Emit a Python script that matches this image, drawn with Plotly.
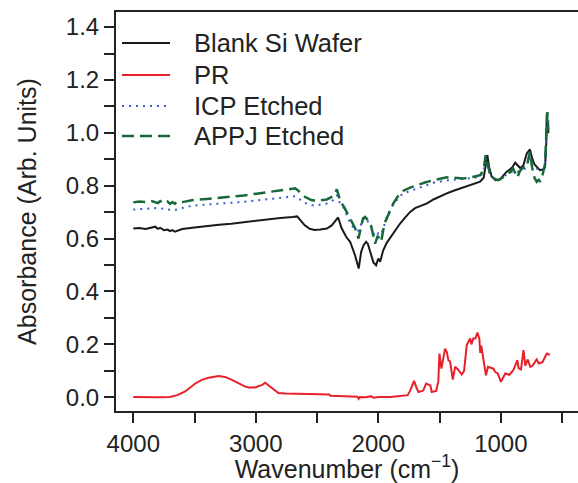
import plotly.graph_objects as go

# ---- data ----
blank_wn = [4000, 3950, 3900, 3850, 3820, 3800, 3780, 3750, 3720, 3700, 3680, 3660, 3640, 3620, 3600,
            3500, 3400, 3300, 3200, 3100, 3000, 2900, 2800, 2700, 2662, 2640, 2600, 2560, 2520, 2474,
            2420, 2380, 2340, 2328, 2300, 2260, 2230, 2190, 2160, 2140, 2120, 2100, 2085, 2065, 2040,
            2018, 2000, 1985, 1960, 1930, 1890, 1860, 1822, 1780, 1740, 1700, 1650, 1602, 1550, 1500,
            1441, 1380, 1306, 1240, 1169, 1140, 1125, 1110, 1095, 1075, 1043, 1010, 980, 952, 925, 905,
            883, 860, 840, 815, 788, 762, 745, 725, 707, 680, 650, 639, 630, 625, 618, 612]
blank_abs = [0.638, 0.640, 0.636, 0.642, 0.645, 0.637, 0.641, 0.632, 0.634, 0.628, 0.632, 0.626, 0.630, 0.633, 0.636,
             0.642, 0.648, 0.652, 0.656, 0.662, 0.667, 0.673, 0.678, 0.682, 0.684, 0.672, 0.650, 0.637, 0.633, 0.634,
             0.638, 0.650, 0.672, 0.680, 0.640, 0.605, 0.588, 0.537, 0.487, 0.550, 0.575, 0.588, 0.580, 0.545, 0.510,
             0.499, 0.525, 0.512, 0.556, 0.585, 0.613, 0.635, 0.657, 0.680, 0.701, 0.715, 0.725, 0.733, 0.748, 0.760,
             0.771, 0.782, 0.793, 0.805, 0.815, 0.830, 0.870, 0.916, 0.870, 0.835, 0.821, 0.822, 0.838, 0.853, 0.862, 0.870,
             0.887, 0.875, 0.866, 0.878, 0.922, 0.937, 0.905, 0.880, 0.871, 0.859, 0.862, 0.870, 0.950, 1.073, 1.040, 0.999]

pr_wn = [4000, 3900, 3800, 3700, 3640, 3576, 3530, 3494, 3440, 3385, 3304, 3250, 3195, 3140, 3086, 3050,
         3032, 3000, 2980, 2950, 2923, 2900, 2869, 2840, 2815, 2760, 2706, 2600, 2500, 2434, 2400, 2390,
         2300, 2200, 2170, 2160, 2150, 2100, 2060, 2040, 2000, 1900, 1800, 1760, 1740, 1708, 1690, 1673,
         1640, 1632, 1610, 1590, 1575, 1564, 1528, 1510, 1501, 1485, 1470, 1455, 1440, 1428, 1414, 1392,
         1373, 1350, 1319, 1300, 1278, 1251, 1240, 1225, 1208, 1191, 1175, 1168, 1160, 1121, 1105, 1080,
         1060, 1045, 1025, 999, 964, 930, 898, 865, 855, 835, 815, 800, 780, 760, 740, 707, 690, 660,
         640, 625, 599]
pr_abs = [0.001, 0.000, 0.000, 0.001, 0.008, 0.022, 0.038, 0.052, 0.066, 0.074, 0.080, 0.077, 0.066, 0.052, 0.040, 0.036,
          0.038, 0.037, 0.042, 0.046, 0.055, 0.046, 0.036, 0.026, 0.016, 0.014, 0.013, 0.011, 0.009, 0.008, 0.010, 0.006,
          0.004, 0.001, 0.002, -0.006, 0.001, 0.000, 0.004, -0.002, 0.001, 0.001, 0.004, 0.008, 0.025, 0.062, 0.038, 0.020,
          0.024, 0.026, 0.052, 0.048, 0.045, 0.020, 0.024, 0.060, 0.165, 0.108, 0.150, 0.184, 0.170, 0.140, 0.135, 0.067,
          0.115, 0.105, 0.086, 0.100, 0.197, 0.222, 0.200, 0.222, 0.222, 0.245, 0.220, 0.168, 0.195, 0.083, 0.115, 0.112,
          0.108, 0.095, 0.090, 0.058, 0.090, 0.085, 0.102, 0.140, 0.110, 0.105, 0.178, 0.120, 0.143, 0.115, 0.120, 0.143, 0.128, 0.133,
          0.150, 0.165, 0.160]

icp_wn = [4000, 3900, 3793, 3720, 3657, 3600, 3522, 3400, 3250, 3100, 2978, 2850, 2750, 2679, 2640, 2600,
          2542, 2502, 2420, 2370, 2338, 2310, 2280, 2240, 2200, 2162, 2135, 2108, 2085, 2060, 2026, 2000,
          1977, 1950, 1920, 1877, 1820, 1795, 1686, 1550, 1441, 1306, 1230, 1169, 1140, 1124, 1105, 1085,
          1050, 1020, 980, 939, 900, 865, 840, 800, 762, 745, 707, 680, 650, 635, 620, 612]
icp_abs = [0.710, 0.713, 0.716, 0.710, 0.708, 0.716, 0.724, 0.729, 0.733, 0.739, 0.745, 0.752, 0.757, 0.760, 0.748, 0.735,
           0.726, 0.726, 0.733, 0.745, 0.764, 0.730, 0.714, 0.670, 0.638, 0.630, 0.660, 0.682, 0.665, 0.645, 0.607, 0.620,
           0.615, 0.655, 0.695, 0.730, 0.762, 0.771, 0.790, 0.811, 0.820, 0.824, 0.829, 0.834, 0.855, 0.910, 0.868, 0.838,
           0.826, 0.822, 0.835, 0.845, 0.855, 0.852, 0.858, 0.865, 0.909, 0.878, 0.865, 0.859, 0.862, 0.900, 1.070, 1.000]

appj_wn = [4000, 3950, 3900, 3850, 3800, 3780, 3750, 3720, 3700, 3680, 3660, 3640, 3600, 3522, 3400, 3250,
           3100, 2978, 2850, 2750, 2679, 2650, 2600, 2542, 2502, 2420, 2370, 2338, 2310, 2280, 2230, 2190,
           2162, 2140, 2125, 2108, 2085, 2060, 2026, 2005, 1990, 1977, 1950, 1910, 1877, 1840, 1795, 1740,
           1686, 1620, 1550, 1441, 1380, 1306, 1230, 1169, 1140, 1124, 1105, 1085, 1050, 1020, 980, 939,
           900, 880, 865, 845, 820, 789, 762, 745, 725, 707, 690, 679, 660, 640, 628, 620, 612]
appj_abs = [0.737, 0.740, 0.738, 0.742, 0.734, 0.742, 0.733, 0.740, 0.731, 0.738, 0.732, 0.740, 0.738, 0.745, 0.750, 0.756,
            0.763, 0.771, 0.779, 0.786, 0.790, 0.780, 0.758, 0.745, 0.743, 0.748, 0.760, 0.786, 0.740, 0.720, 0.676, 0.640,
            0.600, 0.650, 0.676, 0.682, 0.670, 0.651, 0.581, 0.610, 0.600, 0.588, 0.657, 0.700, 0.733, 0.760, 0.781, 0.793,
            0.802, 0.812, 0.821, 0.832, 0.830, 0.827, 0.833, 0.840, 0.860, 0.916, 0.875, 0.840, 0.826, 0.821, 0.832, 0.844,
            0.865, 0.848, 0.831, 0.855, 0.868, 0.871, 0.928, 0.870, 0.830, 0.815, 0.822, 0.815, 0.840, 0.880, 1.000, 1.079, 1.010]

series_names = ["Blank Si Wafer", "PR", "ICP Etched", "APPJ Etched"]
series_colors = ["#1a1a1a", "#e8202a", "#3b5bd0", "#17693a"]
series_dash = ["solid", "solid", "2px,5px", "12px,6px"]
series_width = [2, 2, 2, 2.5]

FONT = "Liberation Sans, Arial, Helvetica, sans-serif"
W, H = 578, 483
ML, MR, MT, MB = 116, 0, 12, 72
PW, PH = W - ML - MR, H - MT - MB


def px_to_paper_x(px):
    return (px - ML) / PW


def px_to_paper_y(py):
    return 1 - (py - MT) / PH


fig = go.Figure()
all_x = [blank_wn, pr_wn, icp_wn, appj_wn]
all_y = [blank_abs, pr_abs, icp_abs, appj_abs]
for i in range(4):
    fig.add_trace(go.Scatter(x=all_x[i], y=all_y[i], mode="lines", name=series_names[i],
                             showlegend=False,
                             line=dict(color=series_colors[i], width=series_width[i],
                                       dash=series_dash[i])))

# legend (drawn as line samples + text labels)
legend_rows_px = [43, 75, 106, 136]
shapes = []
annotations = []
for i, ry in enumerate(legend_rows_px):
    yy = px_to_paper_y(ry)
    shapes.append(dict(type="line", xref="paper", yref="paper",
                       x0=px_to_paper_x(122), x1=px_to_paper_x(170), y0=yy, y1=yy,
                       line=dict(color=series_colors[i], width=series_width[i],
                                 dash=series_dash[i])))
    annotations.append(dict(xref="paper", yref="paper", x=px_to_paper_x(192), y=yy,
                            xanchor="left", yanchor="middle", showarrow=False,
                            text=series_names[i], font=dict(size=25.5, color="#222222")))

fig.update_layout(
    width=W, height=H,
    margin=dict(l=ML, r=MR, t=MT, b=MB),
    paper_bgcolor="white", plot_bgcolor="white",
    font=dict(family=FONT, size=24, color="#222222"),
    shapes=shapes, annotations=annotations,
    xaxis=dict(range=[4141, 370], tick0=0, dtick=1000, tickformat="d",
               ticks="outside", ticklen=10, tickwidth=1.5, tickcolor="#222222",
               minor=dict(tick0=0, dtick=500, ticks="outside", ticklen=10, tickwidth=1.5,
                          tickcolor="#222222", showgrid=False),
               showline=True, linecolor="#222222", linewidth=2, mirror=True,
               showgrid=False, zeroline=False, tickfont=dict(size=24),
               title=dict(text="Wavenumber (cm<sup>\u22121</sup>)", standoff=6,
                          font=dict(size=25))),
    yaxis=dict(range=[-0.052, 1.457], tick0=0, dtick=0.2, tickformat=".1f",
               ticks="outside", ticklen=10, tickwidth=1.5, tickcolor="#222222",
               minor=dict(tick0=0, dtick=0.1, ticks="outside", ticklen=10, tickwidth=1.5,
                          tickcolor="#222222", showgrid=False),
               showline=True, linecolor="#222222", linewidth=2, mirror=False,
               showgrid=False, zeroline=False, tickfont=dict(size=24),
               title=dict(text="Absorbance (Arb. Units)", standoff=22,
                          font=dict(size=25))),
)

fig.write_html("out.html")
